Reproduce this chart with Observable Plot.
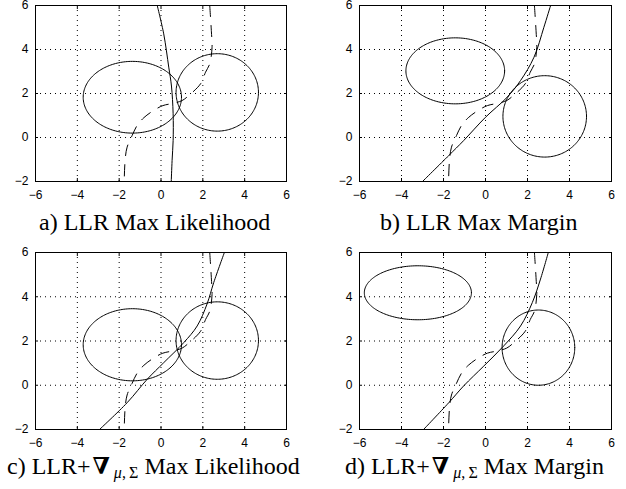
<!DOCTYPE html>
<html><head><meta charset="utf-8">
<script src="https://cdn.jsdelivr.net/npm/d3@7"></script>
<script src="https://cdn.jsdelivr.net/npm/@observablehq/plot@0.6"></script>
<style>
body{margin:0;background:#fff;}
#root{position:relative;width:626px;height:489px;overflow:hidden;background:#fff;}
.panel{position:absolute;}
.panel svg{overflow:visible;}
.cap{position:absolute;text-align:left;font-family:"Liberation Serif","Times New Roman",serif;font-size:24px;line-height:24px;white-space:nowrap;color:#000;}
.cap b{font-family:"DejaVu Serif","Liberation Serif",serif;font-weight:bold;font-size:23px;margin-left:2px;margin-right:4px;}
.cap .sub{font-size:16px;position:relative;top:4px;}
</style></head><body><div id="root"></div>
<script>
// ---- data ----
const xTicks = [-6, -4, -2, 0, 2, 4, 6];
const yTicks = [-2, 0, 2, 4, 6];
const panelIds = ["a", "b", "c", "d"];
const captions = [
  "a) LLR Max Likelihood",
  "b) LLR Max Margin",
  "c) LLR+<b>∇</b><span class='sub'><i>μ</i>,&thinsp;Σ</span> Max Likelihood",
  "d) LLR+<b>∇</b><span class='sub'><i>μ</i>,&thinsp;Σ</span> Max Margin"
];
// two ellipses per panel: centre and semi-axes
const ellipseCx = [[-1.37, 2.69], [-1.44, 2.82], [-1.37, 2.69], [-3.22, 2.52]];
const ellipseCy = [[1.83, 2.05], [3.03, 0.96], [1.83, 2.02], [4.18, 1.70]];
const ellipseRx = [[2.35, 1.97], [2.35, 1.99], [2.35, 1.97], [2.55, 1.73]];
const ellipseRy = [[1.63, 1.76], [1.50, 1.85], [1.63, 1.75], [1.22, 1.70]];
// dashed boundary (same in every panel)
const dashedCurve = [[2.33,6],[2.41,4.8],[2.44,4.1],[2.33,3.35],[2.13,2.97],[1.89,2.44],[1.33,1.91],[1.01,1.68],[0.61,1.56],[0.09,1.45],[-0.35,1.23],[-0.82,0.9],[-1.14,0.55],[-1.38,0.09],[-1.62,-0.44],[-1.71,-0.97],[-1.76,-2]];
// solid boundaries
const solidA = [[-0.18,6],[0.13,4.71],[0.37,3.2],[0.5,2.34],[0.58,1.08],[0.58,-0.14],[0.53,-1.05],[0.49,-2]];
const solidB = [[3.1,6],[2.78,5.01],[2.31,3.65],[1.67,2.59],[1.03,1.83],[0.0,0.92],[-1.04,-0.14],[-1.75,-0.82],[-3.0,-2]];
const solidC = [[3.03,6],[2.52,4.64],[2.2,3.67],[1.73,2.68],[1.09,1.93],[0.13,1.02],[-0.66,0.27],[-1.62,-0.79],[-2.94,-2]];
const solidD = [[2.99,6],[2.62,4.8],[2.23,3.74],[1.67,2.68],[0.87,1.78],[-0.08,0.87],[-1.04,-0.03],[-1.75,-0.79],[-2.95,-2]];
const solidCurves = [solidA, solidB, solidC, solidD];

// ---- layout ----
const layout = [
  {left: 0,   top: 0,   mt: 5, mr: 27, mb: 24, ml: 35, capLeft: 39,  capBase: 230},
  {left: 313, top: 0,   mt: 5, mr: 15, mb: 24, ml: 46, capLeft: 380, capBase: 230},
  {left: 0,   top: 246, mt: 6, mr: 27, mb: 22, ml: 35, capLeft: 7,   capBase: 474},
  {left: 313, top: 246, mt: 6, mr: 15, mb: 22, ml: 46, capLeft: 345, capBase: 474}
];

function ellipsePts(cx, cy, rx, ry) {
  return d3.range(0, 361, 2).map(t => [cx + rx * Math.cos(t * Math.PI / 180), cy + ry * Math.sin(t * Math.PI / 180)]);
}

const root = document.getElementById("root");
panelIds.forEach((id, i) => {
  const L = layout[i];
  const ell = [0, 1].map(k => ellipsePts(ellipseCx[i][k], ellipseCy[i][k], ellipseRx[i][k], ellipseRy[i][k]));
  const blank = () => "";
  const chart = Plot.plot({
    width: 313, height: 205,
    marginTop: L.mt, marginRight: L.mr, marginBottom: L.mb, marginLeft: L.ml,
    x: {domain: [-6, 6]},
    y: {domain: [-2, 6]},
    style: {fontFamily: "'Liberation Sans', Arial, sans-serif", fontSize: "12px", color: "#000", background: "transparent"},
    marks: [
      Plot.gridX({ticks: xTicks, stroke: "#000", strokeOpacity: 1, strokeWidth: 1, strokeDasharray: "1,4"}),
      Plot.gridY({ticks: yTicks, stroke: "#000", strokeOpacity: 1, strokeWidth: 1, strokeDasharray: "1,4"}),
      Plot.line(ell[0], {stroke: "#000", strokeWidth: 1, clip: true}),
      Plot.line(ell[1], {stroke: "#000", strokeWidth: 1, clip: true}),
      Plot.line(dashedCurve, {stroke: "#000", strokeWidth: 1, strokeDasharray: "11,9", curve: "catmull-rom", clip: true}),
      Plot.line(solidCurves[i], {stroke: "#000", strokeWidth: 1, curve: "catmull-rom", clip: true}),
      Plot.frame({stroke: "#000", strokeWidth: 1}),
      Plot.axisX({ticks: xTicks, anchor: "bottom", tickSize: 0, tickPadding: 9, label: null, fill: "#000"}),
      Plot.axisY({ticks: yTicks, anchor: "left", tickSize: 0, tickPadding: 7, label: null, fill: "#000"}),
      Plot.axisX({ticks: xTicks, anchor: "bottom", tickSize: -3, tickFormat: blank, label: null}),
      Plot.axisX({ticks: xTicks, anchor: "top", tickSize: -3, tickFormat: blank, label: null}),
      Plot.axisY({ticks: yTicks, anchor: "left", tickSize: -3, tickFormat: blank, label: null}),
      Plot.axisY({ticks: yTicks, anchor: "right", tickSize: -3, tickFormat: blank, label: null})
    ]
  });
  const div = document.createElement("div");
  div.className = "panel";
  div.style.left = L.left + "px";
  div.style.top = L.top + "px";
  div.appendChild(chart);
  root.appendChild(div);

  const cap = document.createElement("div");
  cap.className = "cap";
  cap.innerHTML = captions[i];
  cap.style.left = L.capLeft + "px";
  cap.style.top = (L.capBase - 20) + "px";
  root.appendChild(cap);
});
</script>
</body></html>
